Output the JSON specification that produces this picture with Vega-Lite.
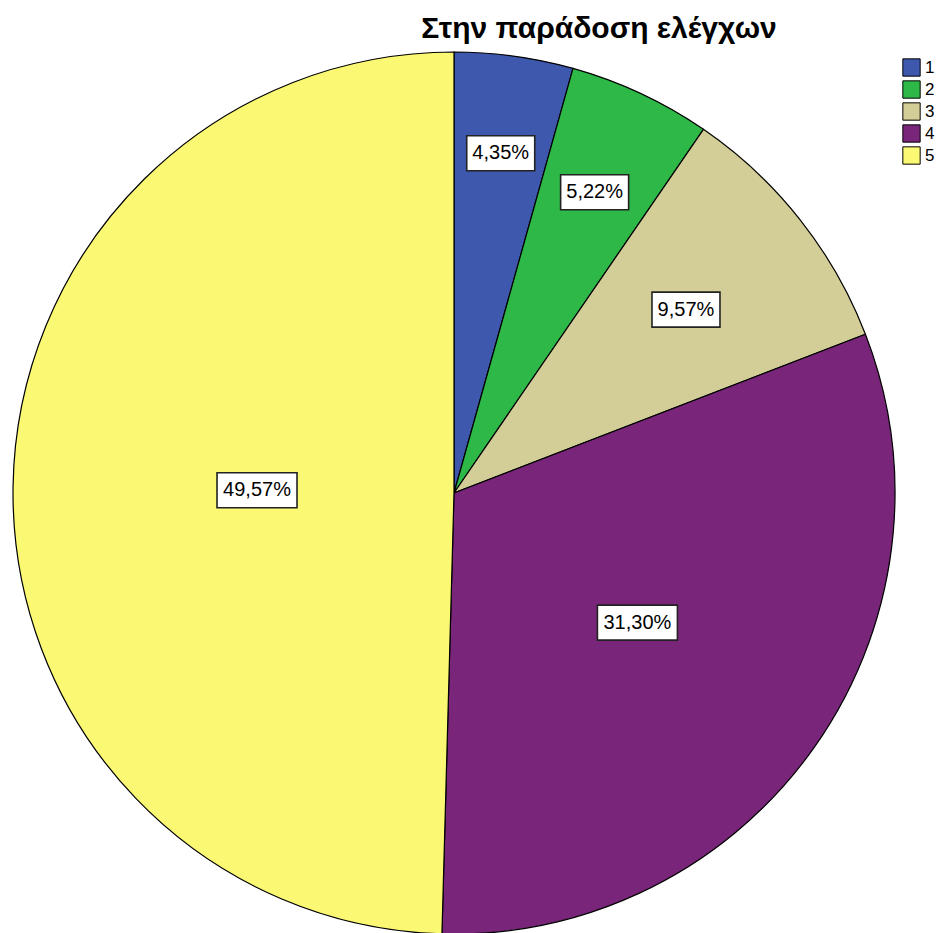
{
  "$schema": "https://vega.github.io/schema/vega-lite/v6.json",
  "width": 882,
  "height": 882,
  "autosize": {"type": "none"},
  "padding": {"left": 13, "top": 52, "right": 47, "bottom": 0},
  "background": "white",
  "title": {
    "text": "Στην παράδοση ελέγχων",
    "font": "Liberation Sans",
    "fontSize": 30,
    "fontWeight": "bold",
    "color": "#000000",
    "anchor": "middle",
    "frame": "group",
    "baseline": "alphabetic",
    "offset": -18,
    "dx": 145
  },
  "data": {
    "values": [
      {"category": "1", "pct": 4.35, "label": "4,35%"},
      {"category": "2", "pct": 5.22, "label": "5,22%"},
      {"category": "3", "pct": 9.57, "label": "9,57%"},
      {"category": "4", "pct": 31.30, "label": "31,30%"},
      {"category": "5", "pct": 49.57, "label": "49,57%"}
    ]
  },
  "config": {"view": {"stroke": null}},
  "layer": [
    {
      "mark": {"type": "arc", "stroke": "#000000", "strokeWidth": 1.2},
      "encoding": {
        "theta": {"field": "pct", "type": "quantitative", "stack": true},
        "order": {"field": "category", "type": "ordinal"},
        "color": {
          "field": "category",
          "type": "nominal",
          "scale": {
            "domain": ["1", "2", "3", "4", "5"],
            "range": ["#3D58AC", "#2EB848", "#D3CE97", "#79267A", "#FBF873"]
          },
          "legend": {
            "title": null,
            "orient": "none",
            "legendX": 889,
            "legendY": 6,
            "symbolType": "square",
            "symbolSize": 300,
            "symbolStrokeColor": "#000000",
            "symbolStrokeWidth": 1,
            "symbolOpacity": 1,
            "labelFont": "Liberation Sans",
            "labelFontSize": 17,
            "labelColor": "#000000",
            "rowPadding": -1,
            "padding": 0
          }
        }
      }
    },
    {
      "transform": [
        {"window": [{"op": "sum", "field": "pct", "as": "cum"}], "sort": [{"field": "category"}]},
        {"calculate": "(datum.cum - datum.pct / 2) / 100 * 2 * PI", "as": "mid"},
        {"calculate": "343 - 146 * log(datum.pct / 4.35) / log(49.57 / 4.35)", "as": "r"},
        {"calculate": "datum.r * sin(datum.mid)", "as": "px"},
        {"calculate": "datum.r * cos(datum.mid)", "as": "py"},
        {"calculate": "(length(datum.label) * 12 + 8) / 2", "as": "hw"},
        {"calculate": "datum.px - datum.hw", "as": "bx1"},
        {"calculate": "datum.px + datum.hw", "as": "bx2"},
        {"calculate": "datum.py - 17.5", "as": "by1"},
        {"calculate": "datum.py + 17.5", "as": "by2"}
      ],
      "layer": [
        {
          "mark": {"type": "rect", "fill": "#FFFFFF", "stroke": "#222222", "strokeWidth": 1.6},
          "encoding": {
            "x": {"field": "bx1", "type": "quantitative", "scale": {"domain": [-441, 441]}, "axis": null},
            "x2": {"field": "bx2"},
            "y": {"field": "by1", "type": "quantitative", "scale": {"domain": [-441, 441]}, "axis": null},
            "y2": {"field": "by2"}
          }
        },
        {
          "mark": {"type": "text", "font": "Liberation Sans", "fontSize": 20, "color": "#000000", "align": "center", "baseline": "middle"},
          "encoding": {
            "x": {"field": "px", "type": "quantitative", "scale": {"domain": [-441, 441]}, "axis": null},
            "y": {"field": "py", "type": "quantitative", "scale": {"domain": [-441, 441]}, "axis": null},
            "text": {"field": "label"}
          }
        }
      ]
    }
  ]
}
